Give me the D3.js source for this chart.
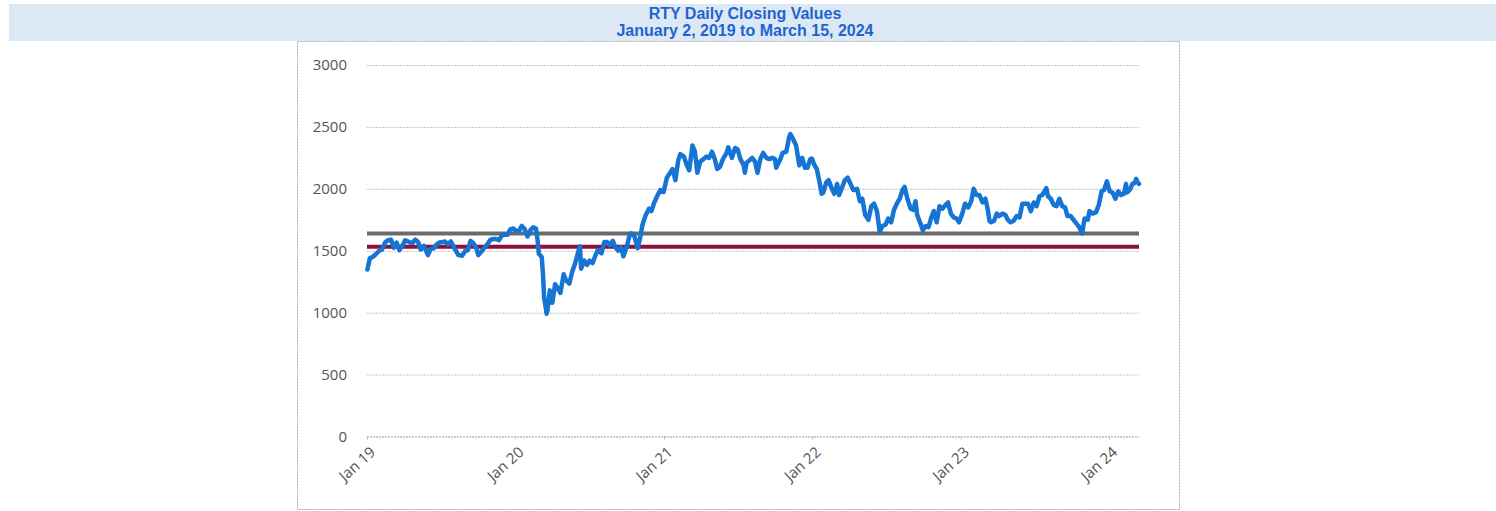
<!DOCTYPE html>
<html>
<head>
<meta charset="utf-8">
<script src="https://cdn.jsdelivr.net/npm/d3@7"></script>
<style>
  body { margin: 0; background: #fff; }
  svg { display: block; }
</style>
</head>
<body>
<svg></svg>
<script>
let titleLines = ["RTY Daily Closing Values", "January 2, 2019 to March 15, 2024"];
let yTicks = [0, 500, 1000, 1500, 2000, 2500, 3000];
let xTicks = ["2019-01-01", "2020-01-01", "2021-01-01", "2022-01-01", "2023-01-01", "2024-01-01"];
let xTickLabels = ["Jan 19", "Jan 20", "Jan 21", "Jan 22", "Jan 23", "Jan 24"];
let levels = [1640, 1533];

let dates = [
  "2019-01-02","2019-01-08","2019-01-15","2019-01-22","2019-01-31","2019-02-07","2019-02-15","2019-02-22",
  "2019-03-01","2019-03-08","2019-03-15","2019-03-22","2019-03-29","2019-04-05","2019-04-12","2019-04-22",
  "2019-04-30","2019-05-07","2019-05-13","2019-05-21","2019-05-31","2019-06-07","2019-06-14","2019-06-21",
  "2019-06-28","2019-07-05","2019-07-12","2019-07-19","2019-07-26","2019-08-02","2019-08-07","2019-08-14",
  "2019-08-23","2019-08-30","2019-09-06","2019-09-13","2019-09-20","2019-09-27","2019-10-02","2019-10-11",
  "2019-10-18","2019-10-25","2019-11-01","2019-11-08","2019-11-15","2019-11-22","2019-11-29","2019-12-06",
  "2019-12-13","2019-12-20","2019-12-27",
  "2020-01-03","2020-01-10","2020-01-17","2020-01-24","2020-01-31","2020-02-07","2020-02-14","2020-02-21",
  "2020-02-25","2020-02-28","2020-03-06","2020-03-09","2020-03-12","2020-03-16","2020-03-18","2020-03-20",
  "2020-03-26","2020-04-01","2020-04-08","2020-04-14","2020-04-21","2020-04-29","2020-05-05","2020-05-13",
  "2020-05-20","2020-05-27","2020-06-03","2020-06-08","2020-06-11","2020-06-19","2020-06-26","2020-07-02",
  "2020-07-09","2020-07-16","2020-07-22","2020-07-31","2020-08-07","2020-08-14","2020-08-21","2020-08-28",
  "2020-09-03","2020-09-10","2020-09-17","2020-09-23","2020-10-01","2020-10-08","2020-10-12","2020-10-20",
  "2020-10-28","2020-11-03","2020-11-09","2020-11-16","2020-11-25","2020-12-01","2020-12-08","2020-12-15",
  "2020-12-23","2020-12-31",
  "2021-01-08","2021-01-14","2021-01-22","2021-01-29","2021-02-05","2021-02-10","2021-02-19","2021-02-25",
  "2021-03-04","2021-03-12","2021-03-18","2021-03-24","2021-03-31","2021-04-08","2021-04-15","2021-04-22",
  "2021-04-29","2021-05-06","2021-05-12","2021-05-19","2021-05-26","2021-06-04","2021-06-08","2021-06-17",
  "2021-06-25","2021-07-01","2021-07-08","2021-07-16","2021-07-19","2021-07-23","2021-07-30","2021-08-06",
  "2021-08-13","2021-08-19","2021-08-26","2021-09-02","2021-09-10","2021-09-17","2021-09-24","2021-10-01",
  "2021-10-04","2021-10-13","2021-10-20","2021-10-29","2021-11-05","2021-11-08","2021-11-15","2021-11-22",
  "2021-11-30","2021-12-07","2021-12-14","2021-12-20","2021-12-27","2021-12-31",
  "2022-01-05","2022-01-12","2022-01-19","2022-01-24","2022-01-28","2022-02-04","2022-02-10","2022-02-17",
  "2022-02-24","2022-03-03","2022-03-08","2022-03-15","2022-03-22","2022-03-29","2022-04-05","2022-04-12",
  "2022-04-21","2022-04-28","2022-05-04","2022-05-11","2022-05-19","2022-05-26","2022-06-02","2022-06-09",
  "2022-06-16","2022-06-22","2022-06-30","2022-07-07","2022-07-14","2022-07-21","2022-07-28","2022-08-04",
  "2022-08-11","2022-08-16","2022-08-23","2022-08-31","2022-09-07","2022-09-12","2022-09-16","2022-09-23",
  "2022-09-30","2022-10-07","2022-10-14","2022-10-21","2022-10-27","2022-11-03","2022-11-10","2022-11-17",
  "2022-11-25","2022-12-01","2022-12-08","2022-12-15","2022-12-22","2022-12-28",
  "2023-01-05","2023-01-12","2023-01-20","2023-01-27","2023-02-02","2023-02-09","2023-02-16","2023-02-24",
  "2023-03-03","2023-03-09","2023-03-13","2023-03-17","2023-03-24","2023-03-31","2023-04-06","2023-04-14",
  "2023-04-21","2023-04-27","2023-05-04","2023-05-11","2023-05-19","2023-05-26","2023-06-02","2023-06-09",
  "2023-06-16","2023-06-23","2023-06-30","2023-07-07","2023-07-14","2023-07-21","2023-07-31","2023-08-04",
  "2023-08-11","2023-08-18","2023-08-25","2023-09-01","2023-09-08","2023-09-15","2023-09-21","2023-09-29",
  "2023-10-06","2023-10-13","2023-10-20","2023-10-27","2023-11-02","2023-11-10","2023-11-14","2023-11-22",
  "2023-11-30","2023-12-07","2023-12-14","2023-12-20","2023-12-27",
  "2024-01-03","2024-01-10","2024-01-17","2024-01-24","2024-01-31","2024-02-07","2024-02-12","2024-02-14",
  "2024-02-21","2024-02-28","2024-03-05","2024-03-08","2024-03-12","2024-03-15"
];

let closes = [
  1348,1440,1450,1470,1500,1510,1570,1585,
  1590,1525,1565,1505,1540,1585,1575,1560,
  1590,1570,1510,1540,1465,1515,1520,1550,
  1567,1570,1575,1550,1575,1535,1505,1465,
  1460,1495,1505,1580,1560,1520,1465,1500,
  1530,1555,1590,1595,1595,1585,1625,1630,
  1630,1675,1680,
  1660,1660,1700,1675,1615,1665,1690,1680,
  1580,1475,1450,1315,1120,1040,991,1014,
  1180,1080,1230,1200,1160,1310,1260,1235,
  1330,1395,1480,1535,1355,1420,1385,1420,
  1400,1460,1505,1480,1570,1570,1545,1580,
  1530,1500,1530,1455,1530,1620,1640,1620,
  1520,1600,1710,1780,1840,1820,1890,1940,
  1990,1975,
  2090,2120,2160,2070,2230,2280,2260,2200,
  2150,2350,2300,2130,2220,2240,2260,2250,
  2300,2240,2160,2180,2240,2290,2335,2250,
  2330,2320,2240,2190,2130,2210,2230,2250,
  2220,2130,2240,2290,2250,2240,2250,2240,
  2170,2230,2290,2300,2420,2442,2400,2350,
  2190,2250,2170,2170,2240,2245,
  2200,2160,2050,1960,1970,2050,2070,2010,
  1960,2040,1950,2010,2070,2090,2040,1990,
  2000,1900,1920,1790,1750,1860,1880,1820,
  1650,1700,1710,1760,1730,1830,1880,1920,
  1990,2015,1920,1840,1830,1900,1790,1730,
  1665,1700,1690,1770,1820,1730,1860,1840,
  1870,1890,1800,1770,1760,1730,
  1800,1880,1850,1900,2000,1950,1950,1890,
  1920,1830,1740,1730,1740,1800,1780,1800,
  1790,1750,1730,1740,1780,1770,1880,1880,
  1880,1820,1890,1860,1940,1950,2005,1940,
  1920,1870,1860,1920,1860,1850,1780,1780,
  1750,1720,1690,1640,1760,1750,1820,1800,
  1810,1870,1980,1990,2060,
  1980,1970,1920,1980,1950,1960,2040,1970,
  1990,2040,2050,2080,2050,2040
];

let parseDate = d3.timeParse("%Y-%m-%d");
let series = dates.map(function (d, i) { return { date: parseDate(d), close: closes[i] }; });

let svgWidth = 1496, svgHeight = 511;
let svg = d3.select("svg")
  .attr("width", svgWidth)
  .attr("height", svgHeight);

// title band
svg.append("rect")
  .attr("x", 9).attr("y", 4)
  .attr("width", svgWidth - 9).attr("height", 37)
  .attr("fill", "#dce9f4");

svg.selectAll(".title")
  .data(titleLines)
  .enter().append("text")
  .attr("x", 745)
  .attr("y", function (d, i) { return 19 + i * 17; })
  .attr("text-anchor", "middle")
  .attr("font-family", "Liberation Sans, Arial, sans-serif")
  .attr("font-weight", "bold")
  .attr("font-size", "16px")
  .attr("fill", "#1f64cf")
  .text(function (d) { return d; });

// chart frame
svg.append("rect")
  .attr("x", 297.5).attr("y", 41.5)
  .attr("width", 882).attr("height", 468)
  .attr("fill", "none")
  .attr("stroke", "#aaa")
  .attr("stroke-dasharray", "2,1");

let x = d3.scaleTime()
  .domain([parseDate("2019-01-01"), parseDate("2024-03-15")])
  .range([367, 1139]);

let y = d3.scaleLinear()
  .domain([0, 3000])
  .range([436.5, 65]);

// gridlines
svg.append("g")
  .attr("transform", "translate(367,0)")
  .call(d3.axisLeft(y).tickValues(yTicks).tickSize(-(1139 - 367)).tickFormat(""))
  .call(function (g) { g.select(".domain").remove(); })
  .call(function (g) {
    g.selectAll(".tick line")
      .attr("stroke", function (d) { return d === 0 ? "#9a9a9a" : "#c4c4c4"; })
      .attr("stroke-dasharray", "2,1");
  });

// y labels
svg.append("g")
  .attr("transform", "translate(353,0)")
  .call(d3.axisLeft(y).tickValues(yTicks).tickSize(0).tickPadding(6).tickFormat(d3.format("d")))
  .call(function (g) { g.select(".domain").remove(); })
  .call(function (g) {
    g.selectAll("text")
      .attr("font-family", "Open Sans, DejaVu Sans, sans-serif")
      .attr("font-size", "15px")
      .attr("fill", "#555");
  });

// x axis ticks and labels
let xAxis = svg.append("g")
  .attr("transform", "translate(0,436.5)")
  .call(d3.axisBottom(x)
    .tickValues(xTicks.map(parseDate))
    .tickSize(4)
    .tickFormat(function (d, i) { return xTickLabels[i]; }))
  .call(function (g) { g.select(".domain").remove(); });

xAxis.selectAll(".tick line")
  .attr("stroke", "#aaa")
  .attr("stroke-dasharray", "1,1");

xAxis.selectAll("text")
  .attr("font-family", "Open Sans, DejaVu Sans, sans-serif")
  .attr("font-size", "15px")
  .attr("fill", "#555")
  .attr("text-anchor", "end")
  .attr("dy", null)
  .attr("y", 0)
  .attr("transform", "translate(9,17) rotate(-42)");

// reference levels
svg.selectAll(".level")
  .data(levels)
  .enter().append("line")
  .attr("x1", x.range()[0])
  .attr("x2", x.range()[1])
  .attr("y1", function (d) { return y(d); })
  .attr("y2", function (d) { return y(d); })
  .attr("stroke", function (d, i) { return i === 0 ? "#6b6b6b" : "#8a1238"; })
  .attr("stroke-width", 4);

let line = d3.line()
  .x(function (d) { return x(d.date); })
  .y(function (d) { return y(d.close); });

svg.append("path")
  .datum(series)
  .attr("fill", "none")
  .attr("stroke", "#1574d4")
  .attr("stroke-linejoin", "round")
  .attr("stroke-linecap", "round")
  .attr("stroke-width", 4.5)
  .attr("d", line);
</script>
</body>
</html>
